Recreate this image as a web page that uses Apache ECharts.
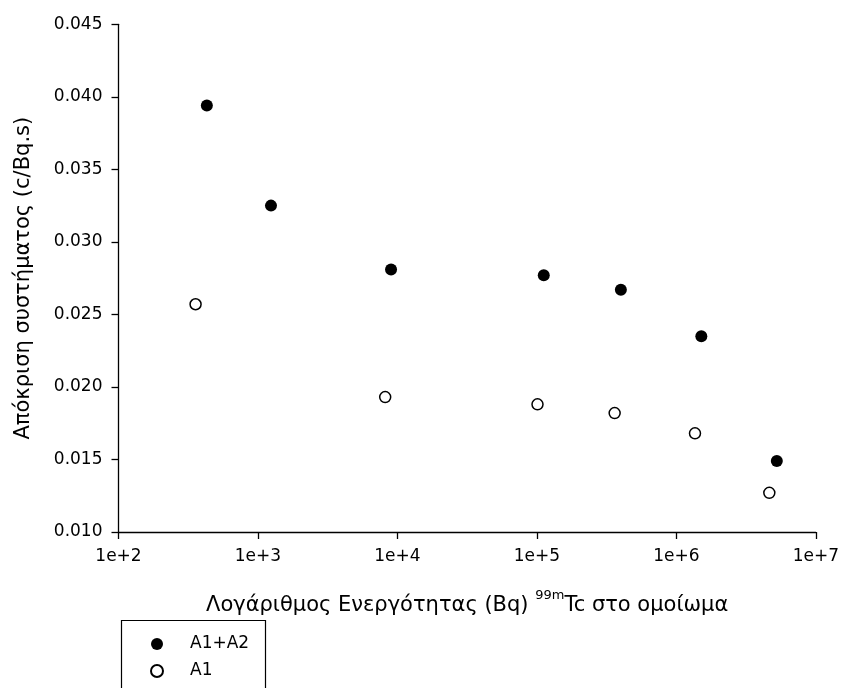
<!DOCTYPE html>
<html><head><meta charset="utf-8">
<script src="https://cdn.jsdelivr.net/npm/echarts@6/dist/echarts.min.js"></script>
<style>html,body{margin:0;padding:0;background:#fff}#c{width:842px;height:688px}</style>
</head><body><div id="c"></div>
<script>
// Data
const seriesNames = ['A1+A2', 'A1'];
const activityA1A2 = [430, 1240, 9000, 112000, 400000, 1510000, 5250000];
const responseA1A2 = [0.0394, 0.0325, 0.0281, 0.0277, 0.0267, 0.0235, 0.0149];
const activityA1 = [357, 8170, 101000, 361000, 1360000, 4640000];
const responseA1 = [0.0257, 0.0193, 0.0188, 0.0182, 0.0168, 0.0127];
const xTickLabels = ['1e+2', '1e+3', '1e+4', '1e+5', '1e+6', '1e+7'];
const yTickLabels = ['0.010', '0.015', '0.020', '0.025', '0.030', '0.035', '0.040', '0.045'];

const FONT = 'DejaVu Sans';
const pairs = (xs, ys) => xs.map((x, i) => [x, ys[i]]);

const chart = echarts.init(document.getElementById('c'), null, {renderer: 'canvas'});
chart.setOption({
  backgroundColor: '#fff',
  animation: false,
  textStyle: {fontFamily: FONT, color: '#000'},
  grid: {left: 118.5, right: 22, top: 24.3, bottom: 156, containLabel: false},
  xAxis: {
    type: 'log', logBase: 10, min: 100, max: 10000000,
    axisLine: {show: true, lineStyle: {color: '#000', width: 1.3}},
    axisTick: {show: true, length: 7, lineStyle: {color: '#000', width: 1.3}},
    minorTick: {show: false},
    splitLine: {show: false},
    axisLabel: {
      margin: 16, fontSize: 17, fontFamily: FONT, color: '#000',
      formatter: v => xTickLabels[Math.round(Math.log10(v)) - 2] || ''
    },
    name: '{m|Λογάριθμος Ενεργότητας (Bq) }{s|99m}{m|Tc στο ομοίωμα}',
    nameLocation: 'middle', nameGap: 57,
    nameTextStyle: {
      rich: {
        m: {fontSize: 21, fontFamily: FONT, color: '#000', lineHeight: 34},
        s: {fontSize: 13, fontFamily: FONT, color: '#000', verticalAlign: 'top', lineHeight: 14}
      }
    }
  },
  yAxis: {
    type: 'value', min: 0.010, max: 0.045, interval: 0.005,
    axisLine: {show: true, lineStyle: {color: '#000', width: 1.3}},
    axisTick: {show: true, length: 7, lineStyle: {color: '#000', width: 1.3}},
    splitLine: {show: false},
    axisLabel: {
      margin: 16, fontSize: 17, fontFamily: FONT, color: '#000',
      formatter: v => yTickLabels[Math.round((v - 0.010) / 0.005)] || ''
    },
    name: 'Απόκριση συστήματος (c/Bq.s)',
    nameLocation: 'middle', nameGap: 84,
    nameTextStyle: {fontSize: 21, fontFamily: FONT, color: '#000'}
  },
  legend: {
    orient: 'vertical', left: 150, top: 634, padding: 0,
    itemWidth: 12, itemHeight: 12, itemGap: 7,
    icon: 'circle',
    textStyle: {fontSize: 17, fontFamily: FONT, color: '#000', padding: [0, 0, 0, 22], lineHeight: 20},
    data: seriesNames
  },
  graphic: [{
    type: 'rect', left: 119, top: 618,
    shape: {width: 144, height: 100},
    style: {fill: 'none', stroke: '#000', lineWidth: 1.2},
    silent: true
  }],
  series: [
    {
      name: seriesNames[0], type: 'scatter', symbol: 'circle', symbolSize: 12,
      itemStyle: {color: '#000', borderColor: '#000', borderWidth: 0, opacity: 1},
      data: pairs(activityA1A2, responseA1A2)
    },
    {
      name: seriesNames[1], type: 'scatter', symbol: 'circle', symbolSize: 11,
      itemStyle: {color: '#fff', borderColor: '#000', borderWidth: 1.5, opacity: 1},
      data: pairs(activityA1, responseA1)
    }
  ]
});
</script></body></html>
